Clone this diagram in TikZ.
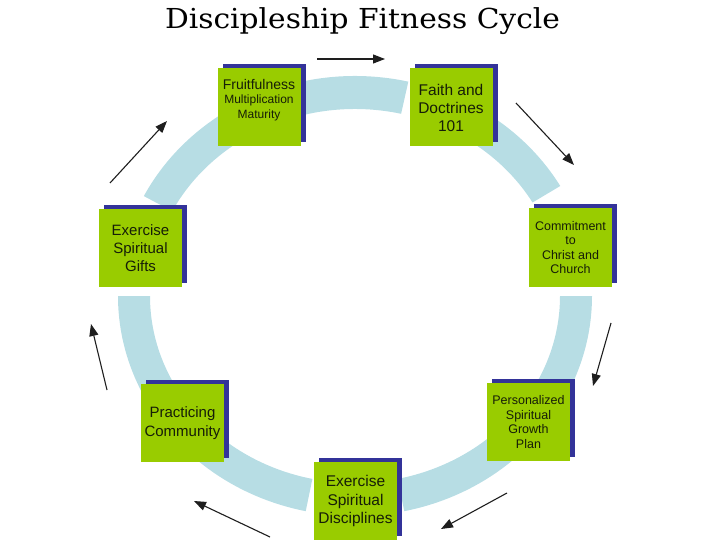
\documentclass[tikz,border=0pt]{standalone}
\usepackage{fontspec}
\setmainfont{Liberation Sans}
\newfontfamily\titlefont{DejaVu Serif}
\usetikzlibrary{arrows.meta,shadows}
\definecolor{ringc}{RGB}{183,221,228}
\definecolor{boxg}{RGB}{153,204,0}
\definecolor{shad}{RGB}{51,51,153}
\definecolor{txt}{RGB}{22,30,8}
\definecolor{arr}{RGB}{30,30,30}
\begin{document}
\begin{tikzpicture}[x=1pt,y=-1pt,
  stepbox/.style={fill=boxg, minimum width=83pt, minimum height=78pt, inner sep=0pt,
    align=center, text=txt,
    drop shadow={shadow xshift=5pt, shadow yshift=4pt, fill=shad, opacity=1}},
  boxtext/.style={align=center, text=txt, inner sep=0pt},
  cyc/.style={draw=arr, line width=1.1pt, -{Triangle[length=12pt,width=9pt]}},
  ringseg/.style={fill=ringc}]
\useasboundingbox (0,0) rectangle (720,540);
% title
\node[anchor=base, inner sep=0pt] (title) at (362.5,29)
  {\titlefont\fontsize{27.5}{30}\selectfont\scalebox{1.08}[1]{Discipleship Fitness Cycle}};
% ring segments
\begin{scope}[shift={(355,296)}]
  \fill[ringseg] (207:237 and 220) arc[start angle=207,end angle=283,x radius=237,y radius=220]
    -- (283:205 and 187) arc[start angle=283,end angle=207,x radius=205,y radius=187] -- cycle;
  \fill[ringseg] (292:237 and 220) arc[start angle=292,end angle=330,x radius=237,y radius=220]
    -- (330:205 and 187) arc[start angle=330,end angle=292,x radius=205,y radius=187] -- cycle;
  \fill[ringseg] (0:237 and 220) arc[start angle=0,end angle=78,x radius=237,y radius=220]
    -- (78:205 and 187) arc[start angle=78,end angle=0,x radius=205,y radius=187] -- cycle;
  \fill[ringseg] (102:237 and 220) arc[start angle=102,end angle=180,x radius=237,y radius=220]
    -- (180:205 and 187) arc[start angle=180,end angle=102,x radius=205,y radius=187] -- cycle;
\end{scope}
% boxes
\node[stepbox] (fruit) at (259,107.5) {};
\node[boxtext, font=\fontsize{12}{14.5}\selectfont] (fruitT) at (259,100)
  {{\fontsize{14}{15.5}\selectfont Fruitfulness}\\Multiplication\\Maturity};
\node[stepbox, font=\fontsize{15.5}{18}\selectfont] (faith) at (451,107.5) {Faith and\\Doctrines\\101};
\node[stepbox, font=\fontsize{12.5}{14.5}\selectfont] (commit) at (570.5,247.5) {Commitment\\to\\Christ and\\Church};
\node[stepbox, font=\fontsize{12.5}{14.5}\selectfont] (plan) at (528.5,422) {Personalized\\Spiritual\\Growth\\Plan};
\node[stepbox, font=\fontsize{15.5}{18.5}\selectfont] (disc) at (355.5,501) {Exercise\\Spiritual\\Disciplines};
\node[stepbox, font=\fontsize{15}{19}\selectfont] (comm) at (182.5,423) {Practicing\\Community};
\node[stepbox, font=\fontsize{15}{18}\selectfont] (gifts) at (140.5,248) {Exercise\\Spiritual\\Gifts};
% arrow end points
\coordinate (a1s) at (317,59);  \coordinate (a1e) at (385,59);
\coordinate (a2s) at (516,103); \coordinate (a2e) at (574,165);
\coordinate (a3s) at (611,323); \coordinate (a3e) at (593,386);
\coordinate (a4s) at (507,493); \coordinate (a4e) at (441,529);
\coordinate (a5s) at (270,537); \coordinate (a5e) at (194,501);
\coordinate (a6s) at (107,390); \coordinate (a6e) at (91,324);
\coordinate (a7s) at (110,183); \coordinate (a7e) at (167,121);
\draw[cyc] (a1s) -- (a1e);
\draw[cyc] (a2s) -- (a2e);
\draw[cyc] (a3s) -- (a3e);
\draw[cyc] (a4s) -- (a4e);
\draw[cyc] (a5s) -- (a5e);
\draw[cyc] (a6s) -- (a6e);
\draw[cyc] (a7s) -- (a7e);
\end{tikzpicture}
\end{document}
